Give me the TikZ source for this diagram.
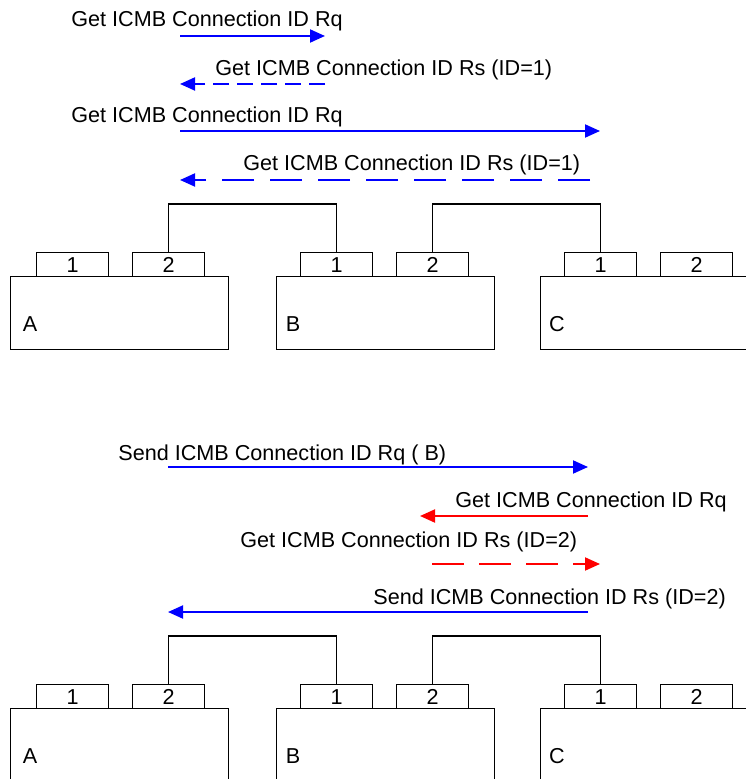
\documentclass[tikz,border=0pt]{standalone}
\usepackage{fontspec}
\setmainfont{Liberation Sans}
\usetikzlibrary{arrows.meta}

\tikzset{
    box/.style={draw, line width=0.6pt, rectangle, anchor=north west, inner sep=0pt, minimum width=109pt, minimum height=36.5pt},
    port/.style={draw, line width=0.6pt, rectangle, anchor=north west, inner sep=0pt, minimum width=36pt, minimum height=12pt},
    msg/.style={line width=1pt, -{Triangle[length=7.5pt, width=6.5pt]}},
    txt/.style={anchor=base west, inner sep=0pt},
    wire/.style={line width=0.6pt}
}

\begin{document}
\begin{tikzpicture}[x=0.5pt, y=-0.5pt, font=\fontsize{10.8pt}{13pt}\selectfont]
        \useasboundingbox (0,0) rectangle (745,779);
        \node (t1) at (71,27) [txt] {Get ICMB Connection ID Rq};
        \node (t2) at (215,76) [txt] {Get ICMB Connection ID Rs (ID=1)};
        \node (t3) at (71,123) [txt] {Get ICMB Connection ID Rq};
        \node (t4) at (243,171) [txt] {Get ICMB Connection ID Rs (ID=1)};
        \coordinate (m1s) at (180,36);
        \coordinate (m1e) at (325,36);
        \coordinate (m2s) at (325,84);
        \coordinate (m2e) at (180,84);
        \coordinate (m3s) at (180,131);
        \coordinate (m3e) at (600,131);
        \coordinate (m4s) at (590,180);
        \coordinate (m4e) at (180,180);
        \draw[msg, blue] (m1s) -- (m1e);
        \draw[msg, blue, dash pattern=on 8pt off 4pt] (m2s) -- (m2e);
        \draw[msg, blue] (m3s) -- (m3e);
        \draw[msg, blue, dash pattern=on 16pt off 8pt] (m4s) -- (m4e);
        \node (tA) at (10,276) [box] {};
        \node (tB) at (276,276) [box] {};
        \node (tC) at (540,276) [box] {};
        \node (tA1) at (36,252) [port] {1};
        \node (tA2) at (132,252) [port] {2};
        \node (tB1) at (300,252) [port] {1};
        \node (tB2) at (396,252) [port] {2};
        \node (tC1) at (564,252) [port] {1};
        \node (tC2) at (660,252) [port] {2};
        \node (tAA) at (30,324) {A};
        \node (tBB) at (293,324) {B};
        \node (tCC) at (557,324) {C};
        \draw[wire] (tA2.north) -- ++(0,-48) -| (tB1.north);
        \draw[wire] (tB2.north) -- ++(0,-48) -| (tC1.north);
        \node (t5) at (118,460) [txt] {Send ICMB Connection ID Rq ( B)};
        \node (t6) at (455,507) [txt] {Get ICMB Connection ID Rq};
        \node (t7) at (240,547) [txt] {Get ICMB Connection ID Rs (ID=2)};
        \node (t8) at (373,604) [txt] {Send ICMB Connection ID Rs (ID=2)};
        \coordinate (m5s) at (168,467);
        \coordinate (m5e) at (588,467);
        \coordinate (m6s) at (588,516);
        \coordinate (m6e) at (420,516);
        \coordinate (m7s) at (432,564);
        \coordinate (m7e) at (600,564);
        \coordinate (m8s) at (588,612);
        \coordinate (m8e) at (168,612);
        \draw[msg, blue] (m5s) -- (m5e);
        \draw[msg, red] (m6s) -- (m6e);
        \draw[msg, red, dash pattern=on 16pt off 7.5pt] (m7s) -- (m7e);
        \draw[msg, blue] (m8s) -- (m8e);
        \node (bA) at (10,708) [box] {};
        \node (bB) at (276,708) [box] {};
        \node (bC) at (540,708) [box] {};
        \node (bA1) at (36,684) [port] {1};
        \node (bA2) at (132,684) [port] {2};
        \node (bB1) at (300,684) [port] {1};
        \node (bB2) at (396,684) [port] {2};
        \node (bC1) at (564,684) [port] {1};
        \node (bC2) at (660,684) [port] {2};
        \node (bAA) at (30,756) {A};
        \node (bBB) at (293,756) {B};
        \node (bCC) at (557,756) {C};
        \draw[wire] (bA2.north) -- ++(0,-48) -| (bB1.north);
        \draw[wire] (bB2.north) -- ++(0,-48) -| (bC1.north);
    \end{tikzpicture}
\end{document}
